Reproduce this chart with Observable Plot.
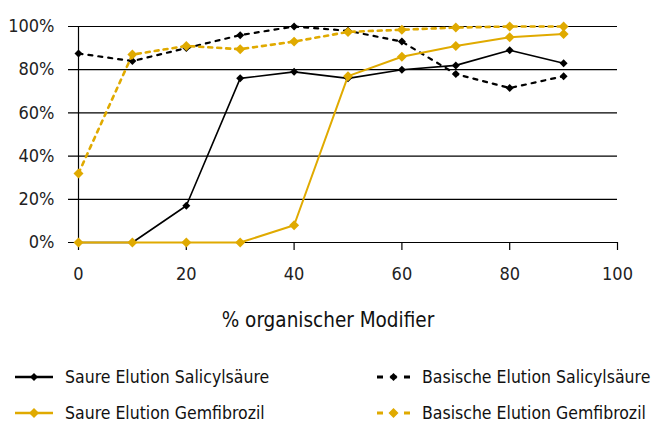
<!DOCTYPE html>
<html><head><meta charset="utf-8">
<script src="https://cdn.jsdelivr.net/npm/d3@7"></script>
<script src="https://cdn.jsdelivr.net/npm/@observablehq/plot@0.6"></script>
<style>
body{margin:0;background:#fff;}
#chart{width:651px;}
.cond{font-family:"Liberation Sans Narrow","DejaVu Sans Condensed","Arial Narrow",sans-serif;font-stretch:condensed;}
#legend{display:grid;grid-template-columns:355px 296px;row-gap:13px;padding-top:20px;font-size:17.5px;color:#111;}
.item{display:flex;align-items:center;height:23px;}
.item svg{margin-right:12px;}
</style></head>
<body><div id="chart"></div>
<script>
const xs = [0,10,20,30,40,50,60,70,80,90];
const saureSal = [0,0,17,76,79,76,80,82,89,83];
const saureGem = [0,0,0,0,8,77,86,91,95,96.5];
const basSal = [87.5,84,90,96,100,98,93,78,71.5,77];
const basGem = [32,87,91,89.5,93,97.5,98.5,99.5,100,100];
const yTicks = [0,20,40,60,80,100];
const xTicks = [0,20,40,60,80,100];
const names = ["Saure Elution Salicylsäure","Basische Elution Salicylsäure","Saure Elution Gemfibrozil","Basische Elution Gemfibrozil"];
const GOLD = "#e0aa00";
const COND = "Liberation Sans Narrow, DejaVu Sans Condensed, sans-serif";
const series = [
  {name:names[0], vals:saureSal, color:"#000", dash:null, w:1.6, r:3.6},
  {name:names[1], vals:basSal, color:"#000", dash:"4,6", w:2.2, r:3.6},
  {name:names[2], vals:saureGem, color:GOLD, dash:null, w:2, r:4.5},
  {name:names[3], vals:basGem, color:GOLD, dash:"4,5", w:2.6, r:4.5}
];
const rows = s => xs.map((x,i)=>({x, y:s.vals[i]}));
const marks = [
  Plot.ruleY(yTicks, {stroke:"#000", strokeWidth:1.2, insetLeft:-10}),
  Plot.ruleX([0], {stroke:"#000", strokeWidth:1.2}),
  Plot.axisX(xTicks, {tickSize:8, tickPadding:17, fontSize:18, fontFamily:COND, fill:"#222", label:null, stroke:"#000", strokeWidth:1.2, strokeOpacity:1}),
  Plot.axisY(yTicks, {tickSize:0, tickPadding:24, fontSize:18, fontFamily:COND, fill:"#222", tickFormat:d=>d+"%", label:null}),
  Plot.text(["% organischer Modifier"], {frameAnchor:"bottom", dy:84, dx:-20, text:d=>d, fontSize:20.5, fill:"#111", fontFamily:COND})
];
for (const s of series) {
  marks.push(Plot.line(rows(s), {x:"x", y:"y", stroke:s.color, strokeWidth:s.w, strokeDasharray:s.dash}));
  marks.push(Plot.dot(rows(s), {x:"x", y:"y", symbol:"diamond2", r:s.r, fill:s.color, stroke:null}));
}
const chart = Plot.plot({
  width:651, height:345,
  marginLeft:78, marginRight:34, marginTop:26, marginBottom:103,
  style:{fontFamily:"DejaVu Sans, sans-serif", fontSize:"14px", color:"#111", background:"#fff"},
  x:{type:"linear", domain:[0,100]},
  y:{type:"linear", domain:[0,100]},
  marks
});
document.getElementById("chart").appendChild(chart);

const leg = document.createElement("div");
leg.id = "legend"; leg.className = "cond";
for (const i of [0,1,2,3]) {
  const s = series[i];
  const it = document.createElement("div");
  it.className = "item";
  it.style.paddingLeft = (i%2===0) ? "15px" : "22px";
  const W = s.dash ? 33 : 38;
  const sw = d3.create("svg").attr("width", W).attr("height", 12);
  sw.append("line").attr("x1",0).attr("x2",W).attr("y1",6).attr("y2",6)
    .attr("stroke",s.color).attr("stroke-width", s.dash ? 3 : 2.5).attr("stroke-dasharray", s.dash ? "6,7.5" : null);
  const r = s.color===GOLD ? 5 : 4;
  sw.append("path").attr("d",`M${W/2},${6-r}L${W/2+r},6L${W/2},${6+r}L${W/2-r},6Z`).attr("fill",s.color);
  it.appendChild(sw.node());
  const t = document.createElement("span"); t.textContent = s.name;
  it.appendChild(t);
  leg.appendChild(it);
}
document.getElementById("chart").appendChild(leg);
</script></body></html>
